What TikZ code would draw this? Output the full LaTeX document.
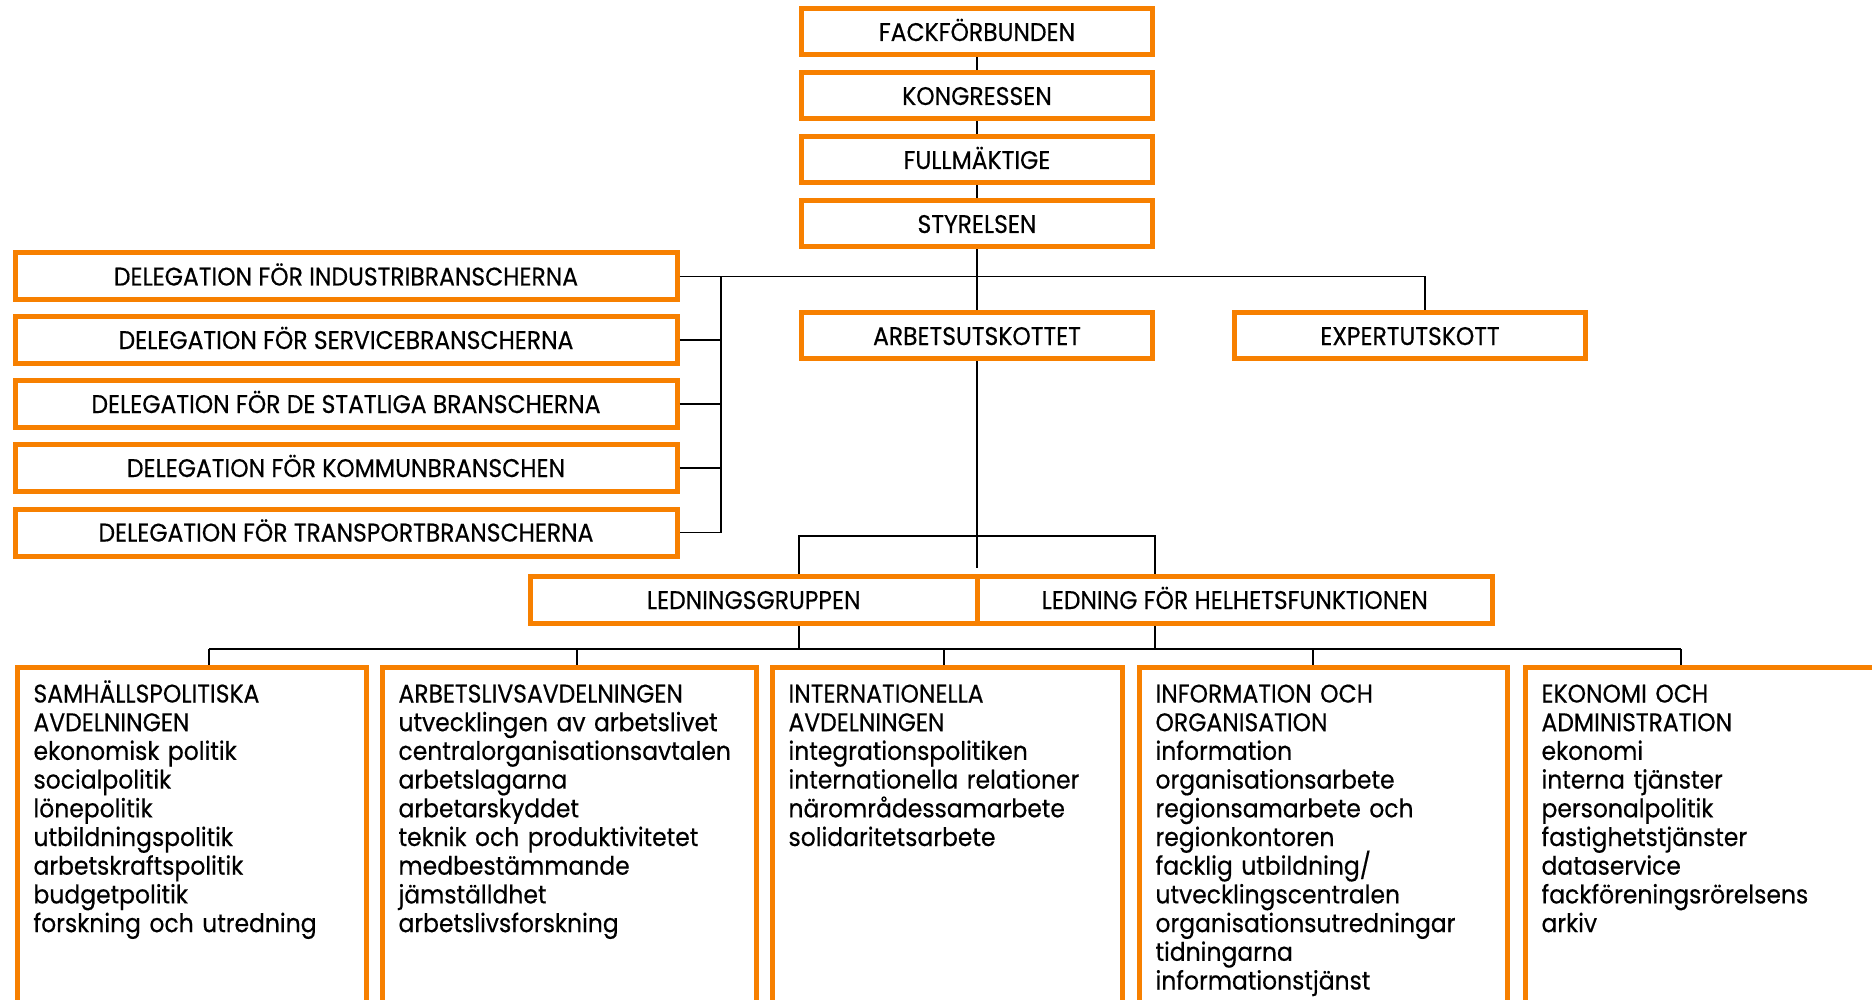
\documentclass[tikz,border=0pt]{standalone}
\usepackage{fontspec}
\setmainfont{Poppins}[FakeStretch=0.92,FakeBold=0.4]
\usepackage{tikz}
\definecolor{orng}{RGB}{247,128,0}
\tikzset{every picture/.style={x=1pt,y=-1pt}}
\tikzset{every node/.style={font={\fontsize{25.5}{28.7}\selectfont\lineskiplimit=-20pt}}}
\tikzset{box/.style={draw=orng,line width=5pt,fill=white,inner sep=0pt,text height=18pt,text depth=0pt}}
\tikzset{unit/.style={box,minimum width=351,minimum height=46}}
\tikzset{deleg/.style={box,minimum width=662,minimum height=47}}
\tikzset{lead/.style={box,minimum width=#1,minimum height=47}}
\tikzset{dept/.style={draw=orng,line width=5pt,anchor=north west,align=left,
inner xsep=16pt,inner ysep=17pt,text height=18pt,text depth=400pt,text width=#1}}
\tikzset{conn/.style={draw=black,line width=1.8pt}}

\begin{document}
\begin{tikzpicture}
\clip (0,0) rectangle (1872,1000);
\fill [white] (0,0) rectangle (1872,1000);

\node [unit] (fack) at (977,32) {FACKFÖRBUNDEN};
\node [unit] (kong) at (977,96) {KONGRESSEN};
\node [unit] (full) at (977,160) {FULLMÄKTIGE};
\node [unit] (sty) at (977,224) {STYRELSEN};
\node [unit] (au) at (977,336) {ARBETSUTSKOTTET};
\node [unit] (exp) at (1410,336) {EXPERTUTSKOTT};

\node [deleg] (d1) at (346,276.5) {DELEGATION FÖR INDUSTRIBRANSCHERNA};
\node [deleg] (d2) at (346,340) {DELEGATION FÖR SERVICEBRANSCHERNA};
\node [deleg] (d3) at (346,404) {DELEGATION FÖR DE STATLIGA BRANSCHERNA};
\node [deleg] (d4) at (346,468) {DELEGATION FÖR KOMMUNBRANSCHEN};
\node [deleg] (d5) at (346,532.5) {DELEGATION FÖR TRANSPORTBRANSCHERNA};

\node [lead=446.5] (lg) at (753.75,600) {LEDNINGSGRUPPEN};
\node [lead=515.5] (ld) at (1234.75,600) {LEDNING FÖR HELHETSFUNKTIONEN};

\node [dept=317] (sam) at (15,665) {SAMHÄLLSPOLITISKA\\AVDELNINGEN\\ekonomisk politik\\socialpolitik\\lönepolitik\\utbildningspolitik\\arbetskraftspolitik\\budgetpolitik\\forskning och utredning};
\node [dept=342] (arb) at (380,665) {ARBETSLIVSAVDELNINGEN\\utvecklingen av arbetslivet\\centralorganisationsavtalen\\arbetslagarna\\arbetarskyddet\\teknik och produktivitetet\\medbestämmande\\jämställdhet\\arbetslivsforskning};
\node [dept=318] (int) at (770,665) {INTERNATIONELLA\\AVDELNINGEN\\integrationspolitiken\\internationella relationer\\närområdessamarbete\\solidaritetsarbete};
\node [dept=336] (inf) at (1137,665) {INFORMATION OCH\\ORGANISATION\\information\\organisationsarbete\\regionsamarbete och\\regionkontoren\\facklig utbildning/\\utvecklingscentralen\\organisationsutredningar\\tidningarna\\informationstjänst};
\node [dept=343] (eko) at (1523,665) {EKONOMI OCH\\ADMINISTRATION\\ekonomi\\interna tjänster\\personalpolitik\\fastighetstjänster\\dataservice\\fackföreningsrörelsens\\arkiv};

\coordinate (brk) at (721,276.5);
\coordinate (j1) at (977,536);
\coordinate (j2) at (977,649);
\coordinate (b1) at (209,649);
\coordinate (b2) at (577,649);
\coordinate (b3) at (944,649);
\coordinate (b4) at (1313,649);
\coordinate (b5) at (1681,649);

\draw [conn] (fack) -- (kong);
\draw [conn] (kong) -- (full);
\draw [conn] (full) -- (sty);
\draw [conn] (sty) -- (au);
\draw [conn] (d1) -| ([xshift=15pt]exp.north);
\draw [conn] (brk) |- (d5);
\foreach \i in {2,3,4}
  \draw [conn] (d\i) -- (d\i -| brk);

\draw [conn,shorten >=6pt] (au) -- (au.south |- lg.north);
\draw [conn] (au.west |- lg.north) |- (j1) -| (au.east |- ld.north);
\draw [conn] (au.west |- lg.south) -- (au.west |- j2);
\draw [conn] (au.east |- ld.south) -- (au.east |- j2);
\draw [conn] (b1) -- (b5);
\foreach \b/\n in {b1/sam,b2/arb,b3/int,b4/inf,b5/eko}
  \draw [conn] (\b) -- (\b |- \n.north);
\end{tikzpicture}
\end{document}
